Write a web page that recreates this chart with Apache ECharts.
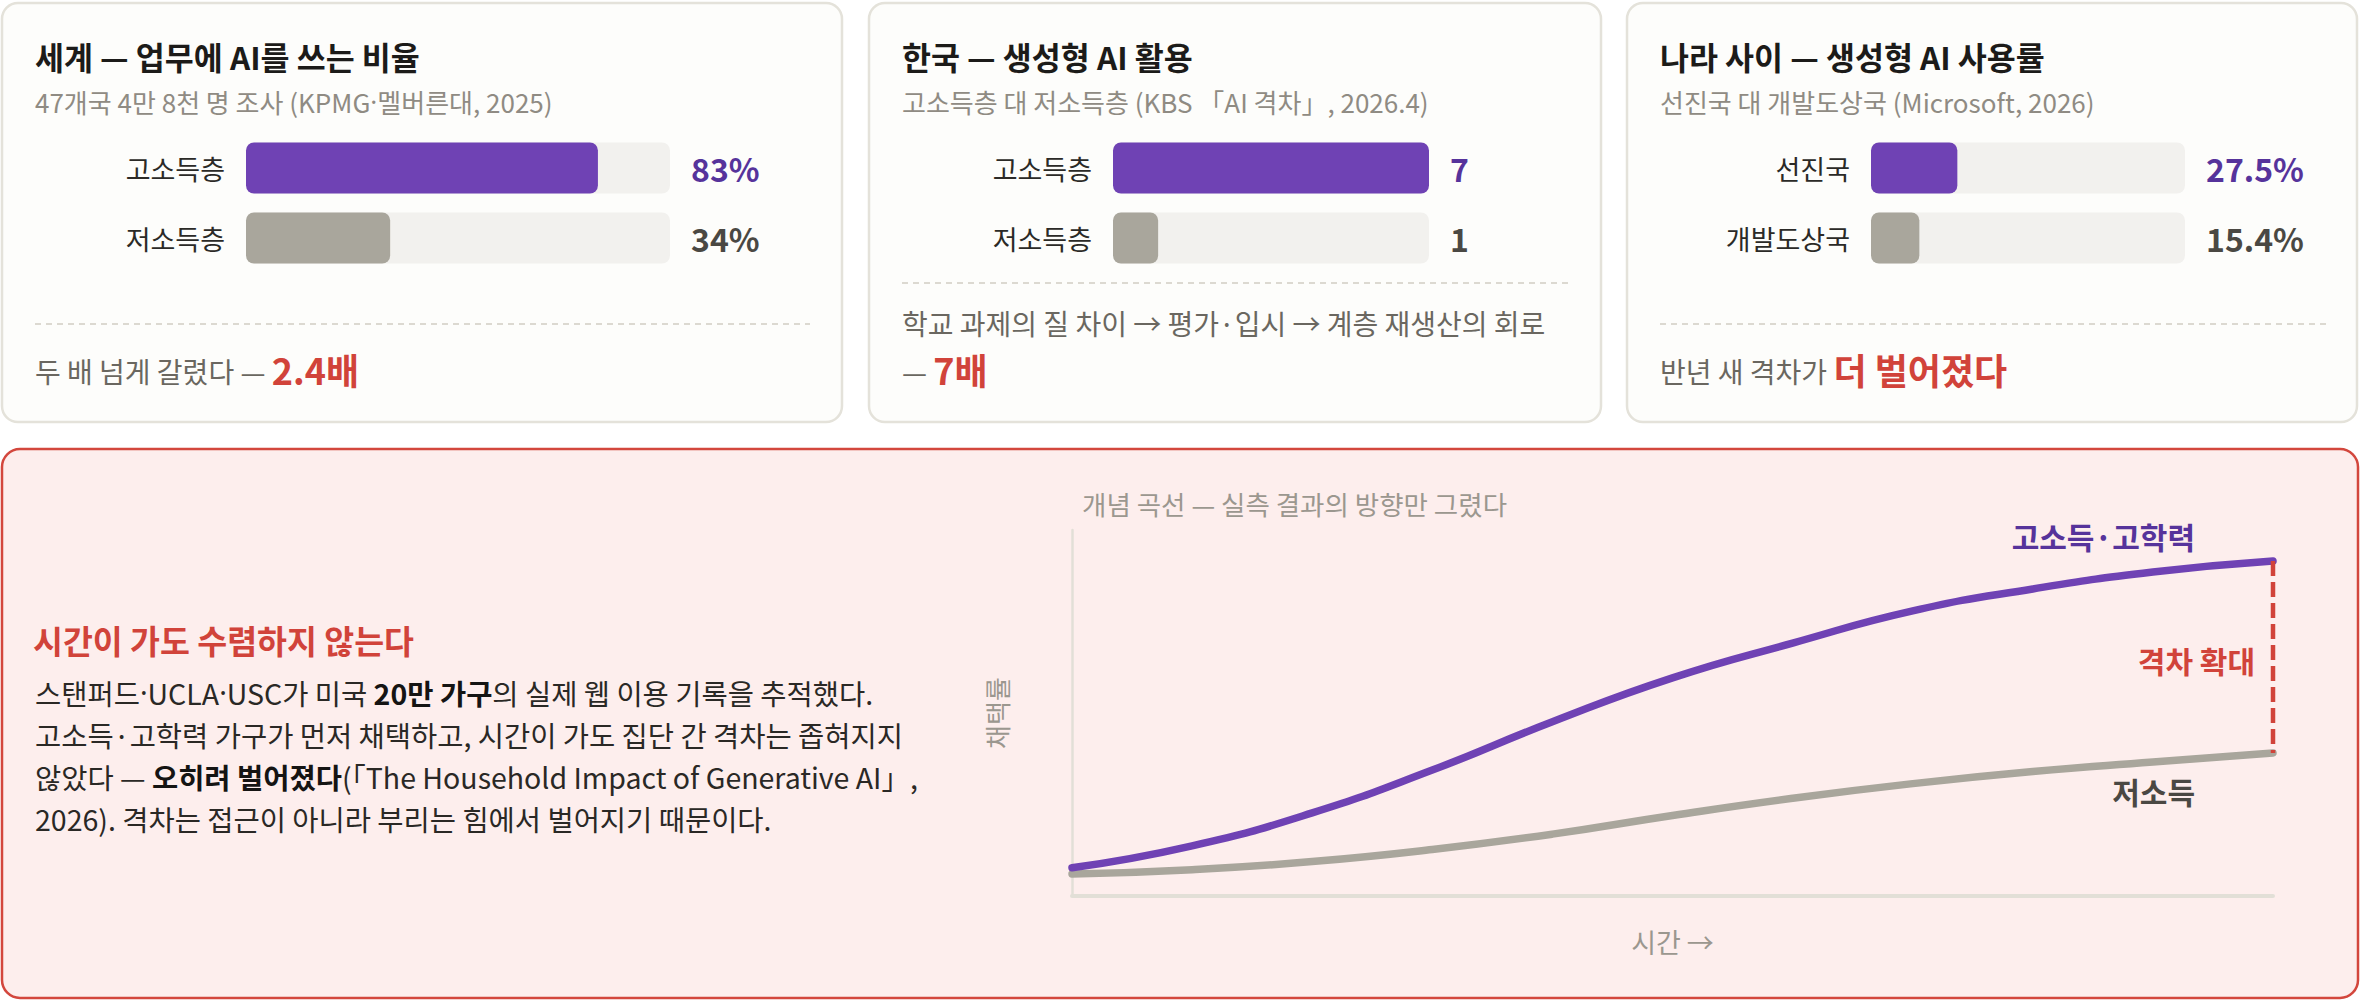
<!DOCTYPE html>
<html><head><meta charset="utf-8">
<style>html,body{margin:0;padding:0;background:#ffffff;}#c{width:2360px;height:1002px;}</style>
<script src="https://cdn.jsdelivr.net/npm/echarts@6/dist/echarts.min.js"></script>
</head><body><div id="c"></div>
<script>
const FONT = '"Noto Sans CJK KR","Noto Sans",sans-serif';
const LATIN = '"Noto Sans","Noto Sans CJK KR",sans-serif';

// ---- data ----
const worldCats = ['고소득층', '저소득층'];
const worldVals = [83, 34];
const koreaCats = ['고소득층', '저소득층'];
const koreaVals = [7, 1];
const nationCats = ['선진국', '개발도상국'];
const nationVals = [27.5, 15.4];

const timeSteps = [0, 10, 20, 30, 40, 50, 60, 70, 80, 90, 100];
const highCurve = [7.7, 13.7, 22.7, 34.4, 47.6, 59.6, 69.1, 77.9, 83.9, 88.5, 91.5];
const lowCurve  = [6.0, 7.2, 9.4, 12.7, 16.9, 22.0, 26.7, 30.7, 34.0, 36.6, 39.1];

const cardTitles = ['세계 — 업무에 AI를 쓰는 비율', '한국 — 생성형 AI 활용', '나라 사이 — 생성형 AI 사용률'];
const cardSubs = ['47개국 4만 8천 명 조사 (KPMG{d|·}멜버른대, 2025)', '고소득층 대 저소득층 (KBS 「AI 격차」, 2026.4)', '선진국 대 개발도상국 (Microsoft, 2026)'];

// ---- colors ----
const PURPLE = '#6f42b4', PURPLE_T = '#56339b', GRAY = '#a9a69c', GRAY_T = '#4a4843';
const TRACK = '#f2f1ee', RED = '#d1433a', FOOT = '#6a6760', SUB = '#8f8b83';

const cards = [
  {x: 2, w: 840, cats: worldCats, vals: worldVals, max: 100, fmt: v => v + '%'},
  {x: 869, w: 732, cats: koreaCats, vals: koreaVals, max: 7, fmt: v => String(v)},
  {x: 1627, w: 730, cats: nationCats, vals: nationVals, max: 100, fmt: v => v.toFixed(1) + '%'}
];

const grids = [], xAxes = [], yAxes = [], series = [], graphics = [];

cards.forEach((c, i) => {
  graphics.push({type: 'rect', z: -10, shape: {x: c.x, y: 3, width: c.w, height: 419, r: 16},
    style: {fill: '#fdfdfb', stroke: '#e4e2da', lineWidth: 2.5}});
  graphics.push({type: 'text', z: 10, x: c.x + 33, y: 56,
    style: {text: cardTitles[i], font: 'bold 31.5px ' + FONT, fill: '#1c1b19', textVerticalAlign: 'middle'}});
  graphics.push({type: 'text', z: 10, x: c.x + 33, y: 101,
    style: {text: cardSubs[i], fontSize: 26, fontFamily: FONT, fill: SUB, textVerticalAlign: 'middle',
      rich: {d: {fontSize: 26, fontFamily: LATIN, fill: SUB}}}});
  const left = c.x + 244, right = c.x + c.w - 172;
  grids.push({left: left, top: 133, width: right - left, height: 140});
  xAxes.push({type: 'value', gridIndex: i, min: 0, max: c.max, show: false});
  yAxes.push({type: 'category', gridIndex: i, data: c.cats, inverse: true, position: 'left',
    axisLine: {show: false}, axisTick: {show: false},
    axisLabel: {margin: 21, fontSize: 27, color: '#2b2a27', fontFamily: FONT}});
  yAxes.push({type: 'category', gridIndex: i, data: c.vals.map(c.fmt), inverse: true, position: 'right',
    axisLine: {show: false}, axisTick: {show: false},
    axisLabel: {margin: 21, fontSize: 32, fontWeight: 'bold', fontFamily: FONT, align: 'left',
      color: (v, idx) => idx === 0 ? PURPLE_T : GRAY_T}});
  series.push({type: 'bar', xAxisIndex: i, yAxisIndex: i * 2, data: c.vals, barWidth: 51,
    showBackground: true, backgroundStyle: {color: TRACK, borderRadius: 8},
    itemStyle: {borderRadius: 8, color: p => p.dataIndex === 0 ? PURPLE : GRAY},
    silent: true, animation: false});
});

// card footers
const dash = {stroke: '#dcd9d1', lineWidth: 2, lineDash: [6, 5]};
graphics.push({type: 'line', z: 5, shape: {x1: 35, y1: 324, x2: 810, y2: 324}, style: dash});
graphics.push({type: 'line', z: 5, shape: {x1: 902, y1: 283, x2: 1568, y2: 283}, style: dash});
graphics.push({type: 'line', z: 5, shape: {x1: 1660, y1: 324, x2: 2326, y2: 324}, style: dash});

const footRich = {
  n: {fontSize: 28, fontFamily: FONT, fill: FOOT, lineHeight: 48, verticalAlign: 'middle', padding: [3, 0, 0, 0]},
  r: {fontSize: 36, fontFamily: FONT, fontWeight: 'bold', fill: RED, lineHeight: 48, verticalAlign: 'middle'}
};
graphics.push({type: 'text', z: 10, x: 35, y: 369, style: {text: '{n|두 배 넘게 갈렸다 — }{r|2.4배}', rich: footRich, textVerticalAlign: 'middle'}});
graphics.push({type: 'text', z: 10, x: 902, y: 323, style: {text: '학교 과제의 질 차이 → 평가·입시 → 계층 재생산의 회로', font: '28px ' + FONT, fill: FOOT, textVerticalAlign: 'middle'}});
graphics.push({type: 'text', z: 10, x: 902, y: 369, style: {text: '{n|— }{r|7배}', rich: footRich, textVerticalAlign: 'middle'}});
graphics.push({type: 'text', z: 10, x: 1660, y: 369, style: {text: '{n|반년 새 격차가 }{r|더 벌어졌다}', rich: footRich, textVerticalAlign: 'middle'}});

// bottom panel
graphics.push({type: 'rect', z: -10, shape: {x: 2, y: 449, width: 2356, height: 549, r: 18},
  style: {fill: '#fdeeed', stroke: '#d3473d', lineWidth: 2.5}});
graphics.push({type: 'text', z: 10, x: 33, y: 639,
  style: {text: '시간이 가도 수렴하지 않는다', font: 'bold 32.5px ' + FONT, fill: RED, textVerticalAlign: 'middle'}});
graphics.push({type: 'text', z: 10, x: 35, y: 671,
  style: {
    text: '스탠퍼드{d|·}UCLA{d|·}USC가 미국 {b|20만 가구}의 실제 웹 이용 기록을 추적했다.\n' +
          '고소득·고학력 가구가 먼저 채택하고, 시간이 가도 집단 간 격차는 좁혀지지\n' +
          '않았다 — {b|오히려 벌어졌다}(「The Household Impact of Generative AI」,\n' +
          '2026). 격차는 접근이 아니라 부리는 힘에서 벌어지기 때문이다.',
    fontSize: 28.5, fontFamily: FONT, fill: '#2a2825', lineHeight: 42, textVerticalAlign: 'top',
    rich: {
      b: {fontSize: 28.5, fontFamily: FONT, fontWeight: 'bold', fill: '#151413', lineHeight: 42},
      d: {fontSize: 28.5, fontFamily: LATIN, fill: '#2a2825', lineHeight: 42}
    }
  }});
graphics.push({type: 'text', z: 10, x: 1082, y: 503,
  style: {text: '개념 곡선 — 실측 결과의 방향만 그렸다', font: '26.5px ' + FONT, fill: '#9b978f', textVerticalAlign: 'middle'}});
graphics.push({type: 'text', z: 10, x: 2195, y: 536,
  style: {text: '고소득·고학력', font: 'bold 30px ' + FONT, fill: PURPLE_T, textAlign: 'right', textVerticalAlign: 'middle'}});
graphics.push({type: 'text', z: 10, x: 2195, y: 791,
  style: {text: '저소득', font: 'bold 30px ' + FONT, fill: GRAY_T, textAlign: 'right', textVerticalAlign: 'middle'}});
graphics.push({type: 'text', z: 10, x: 2255, y: 660,
  style: {text: '격차 확대', font: 'bold 30px ' + FONT, fill: RED, textAlign: 'right', textVerticalAlign: 'middle'}});

// concept curve chart
grids.push({left: 1072, top: 530, width: 1201, height: 366});
xAxes.push({type: 'value', gridIndex: 3, min: 0, max: 100,
  axisLine: {show: true, lineStyle: {color: '#e2dfd7', width: 4}}, axisTick: {show: false},
  axisLabel: {show: false}, splitLine: {show: false},
  name: '시간 →', nameLocation: 'middle', nameGap: 32,
  nameTextStyle: {fontSize: 27, color: '#9b978f', fontFamily: FONT}});
yAxes.push({type: 'value', gridIndex: 3, min: 0, max: 100,
  axisLine: {show: true, lineStyle: {color: '#e2dfd7', width: 2.5}}, axisTick: {show: false},
  axisLabel: {show: false}, splitLine: {show: false},
  name: '채택률', nameLocation: 'middle', nameGap: 63, nameRotate: 90,
  nameTextStyle: {fontSize: 26, color: '#9b978f', fontFamily: FONT}});

const last = timeSteps.length - 1;
series.push({type: 'line', xAxisIndex: 3, yAxisIndex: 6, smooth: 0.5, showSymbol: false, symbol: 'none',
  data: timeSteps.map((t, k) => [t, lowCurve[k]]),
  lineStyle: {color: GRAY, width: 7.5, cap: 'round'}, z: 3, animation: false, silent: true});
series.push({type: 'line', xAxisIndex: 3, yAxisIndex: 6, smooth: 0.5, showSymbol: false, symbol: 'none',
  data: timeSteps.map((t, k) => [t, highCurve[k]]),
  lineStyle: {color: PURPLE, width: 7.5, cap: 'round'}, z: 4, animation: false, silent: true});
series.push({type: 'line', xAxisIndex: 3, yAxisIndex: 6, showSymbol: false, symbol: 'none',
  data: [[timeSteps[last], highCurve[last]], [timeSteps[last], lowCurve[last]]],
  lineStyle: {color: RED, width: 4.5, type: [15, 6]}, z: 5, animation: false, silent: true});

const chart = echarts.init(document.getElementById('c'), null, {renderer: 'svg', width: 2360, height: 1002});
chart.setOption({
  animation: false,
  backgroundColor: '#ffffff',
  textStyle: {fontFamily: FONT},
  grid: grids, xAxis: xAxes, yAxis: yAxes, series: series,
  graphic: {elements: graphics}
});
</script></body></html>
